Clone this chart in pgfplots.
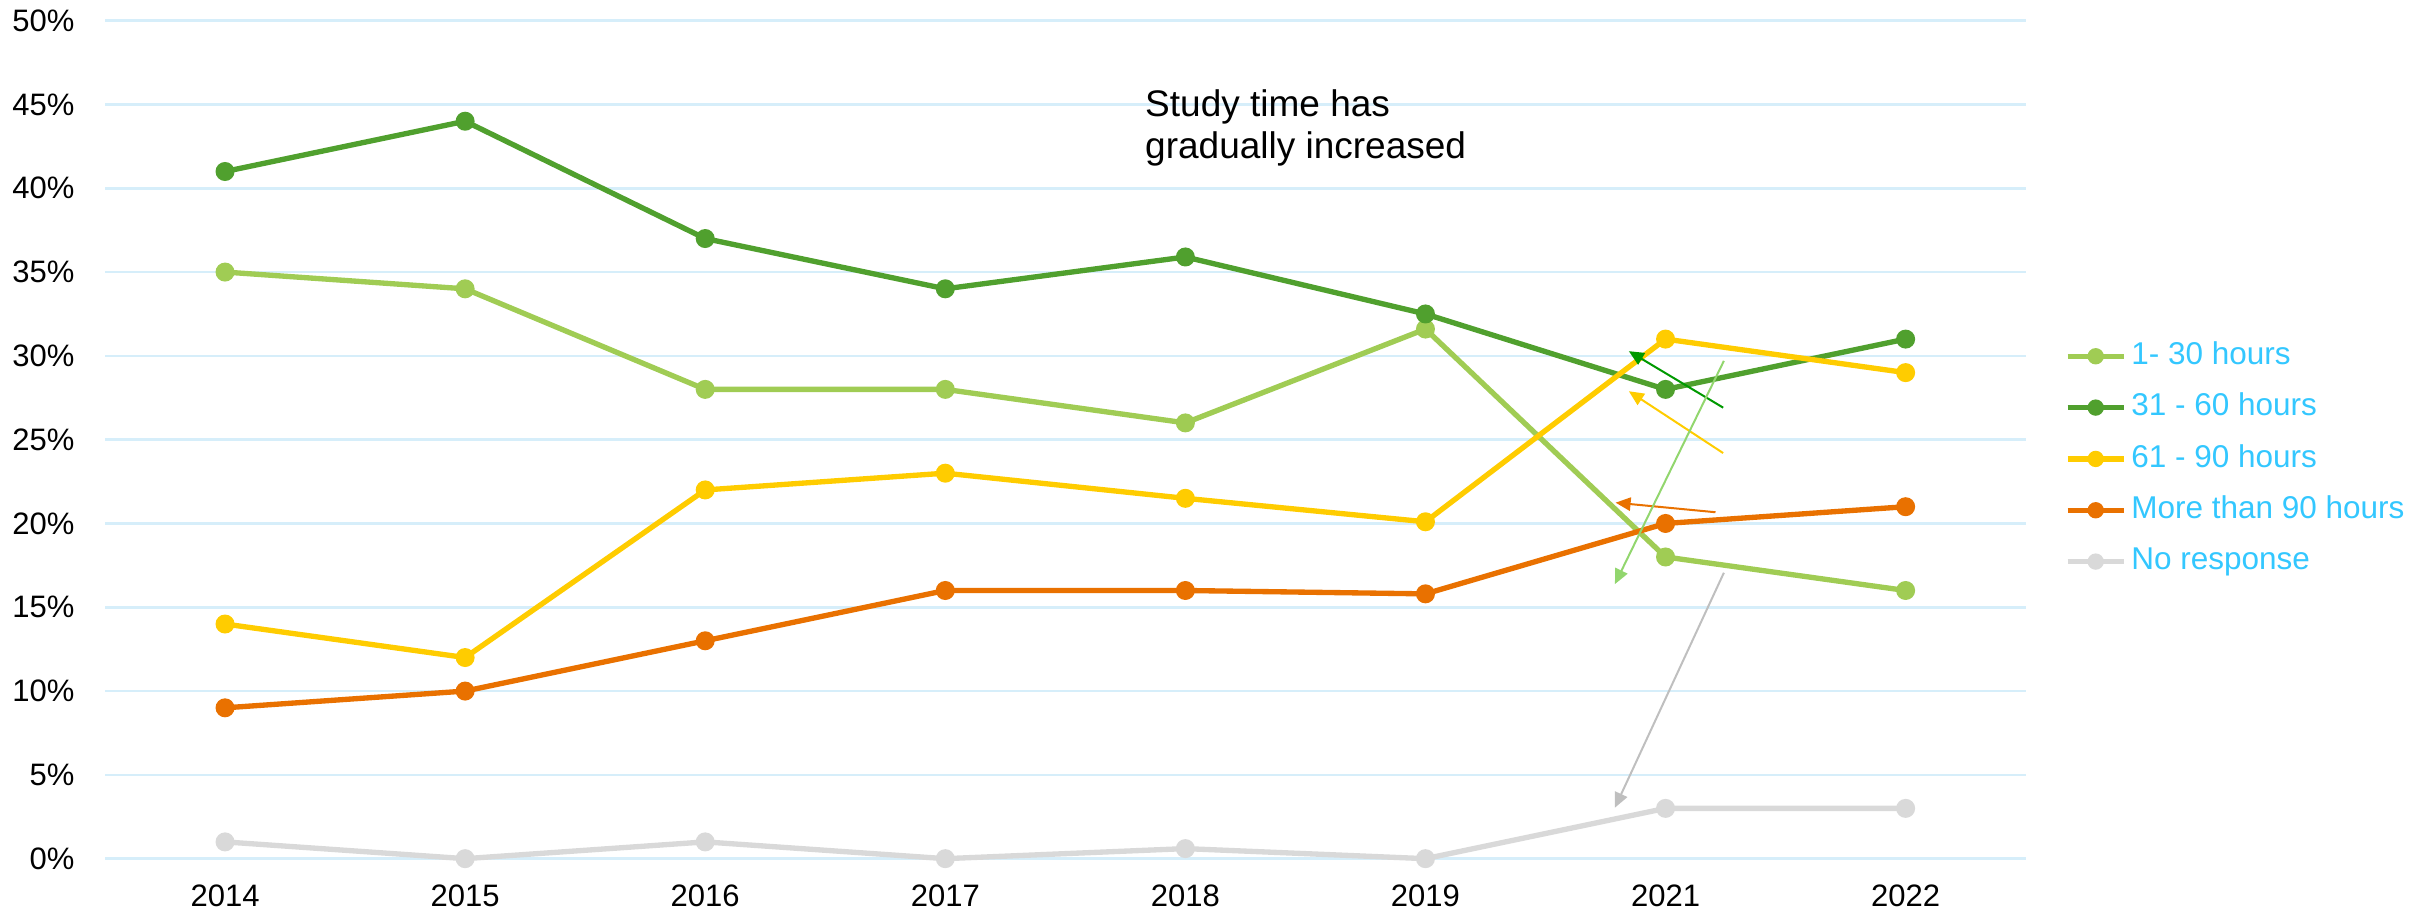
\documentclass[border=0pt]{standalone}
\usepackage{fontspec}
\setmainfont{Liberation Sans}
\usepackage{pgfplots}
\usepackage{pgfplotstable}
\pgfplotsset{compat=1.18}
\usetikzlibrary{arrows.meta}
\definecolor{c1}{RGB}{160,204,84}
\definecolor{c2}{RGB}{80,160,46}
\definecolor{c3}{RGB}{255,204,0}
\definecolor{c4}{RGB}{233,113,0}
\definecolor{c5}{RGB}{217,217,217}
\definecolor{gridc}{RGB}{214,238,250}
\definecolor{legc}{RGB}{51,199,255}
\definecolor{ag}{RGB}{0,153,0}
\definecolor{alg}{RGB}{146,214,110}
\definecolor{agr}{RGB}{191,191,191}
\pgfplotstableread{
x a b c d e
0 35 41 14 9 1
1 34 44 12 10 0
2 28 37 22 13 1
3 28 34 23 16 0
4 26 35.9 21.5 16 0.6
5 31.6 32.5 20.1 15.8 0
6 18 28 31 20 3
7 16 31 29 21 3
}\data
\begin{document}
\begin{tikzpicture}
\useasboundingbox (0,0) rectangle (729.9bp,274.2bp);
\begin{axis}[
 at={(31.5bp,16.6bp)}, anchor=south west,
 scale only axis, width=576.2bp, height=251.4bp,
 xmin=-0.5, xmax=7.5, ymin=0, ymax=50,
 xtick={0,...,7}, xticklabels={2014,2015,2016,2017,2018,2019,2021,2022},
 ytick={0,5,...,50},
 yticklabel={\pgfmathprintnumber{\tick}\%},
 /pgf/number format/assume math mode=true,
 axis line style={draw=none},
 major tick length=0pt,
 ymajorgrids, grid style={gridc, line width=0.8bp},
 tick label style={font=\fontsize{9.3bp}{11bp}\selectfont, black},
 yticklabel style={anchor=east, inner sep=0pt, xshift=-9bp},
 xticklabel style={anchor=north, inner sep=0pt, yshift=-7.8bp},
 legend cell align=left,
 legend style={at={(rel axis cs:1.0205,0.477)}, anchor=west, draw=none, fill=none,
   inner sep=0pt, outer sep=0pt, row sep=6.4bp, column sep=1.5bp,
   font=\fontsize{9.45bp}{11bp}\selectfont, text=legc,
   nodes={inner sep=0pt, text height=7bp, text depth=2bp}},
 legend image code/.code={\draw[mark repeat=2, mark phase=2, mark size=2.2bp] plot coordinates {(0bp,0bp) (8.4bp,0bp) (16.8bp,0bp)};},
 every axis plot/.append style={line width=1.6bp, mark=*, mark size=2.6bp, mark options={solid, line width=0.5bp}},
 clip=false,
]
\addplot[c1] table[x=x,y=a]{\data};
\addlegendentry{1- 30 hours}
\addplot[c2] table[x=x,y=b]{\data};
\addlegendentry{31 - 60 hours}
\addplot[c3] table[x=x,y=c]{\data};
\addlegendentry{61 - 90 hours}
\addplot[c4] table[x=x,y=d]{\data};
\addlegendentry{More than 90 hours}
\addplot[c5] table[x=x,y=e]{\data};
\addlegendentry{No response}
\draw[ag, line width=0.6bp, -{Triangle[length=4.5bp,width=4bp]}] (axis cs:6.240,26.91) -- (axis cs:5.847,30.28);
\draw[c3, line width=0.6bp, -{Triangle[length=4.5bp,width=4bp]}] (axis cs:6.240,24.20) -- (axis cs:5.847,27.89);
\draw[c4, line width=0.6bp, -{Triangle[length=4.5bp,width=4bp]}] (axis cs:6.208,20.67) -- (axis cs:5.792,21.24);
\draw[alg, line width=0.6bp, -{Triangle[length=4.5bp,width=4bp]}] (axis cs:6.243,29.70) -- (axis cs:5.789,16.38);
\draw[agr, line width=0.6bp, -{Triangle[length=4.5bp,width=4bp]}] (axis cs:6.243,17.06) -- (axis cs:5.789,3.04);
\node[anchor=north west, inner sep=0pt, align=left, font=\fontsize{11.1bp}{12.8bp}\selectfont] at (axis cs:3.830,45.95) {Study time has\\gradually increased};
\end{axis}
\end{tikzpicture}
\end{document}
